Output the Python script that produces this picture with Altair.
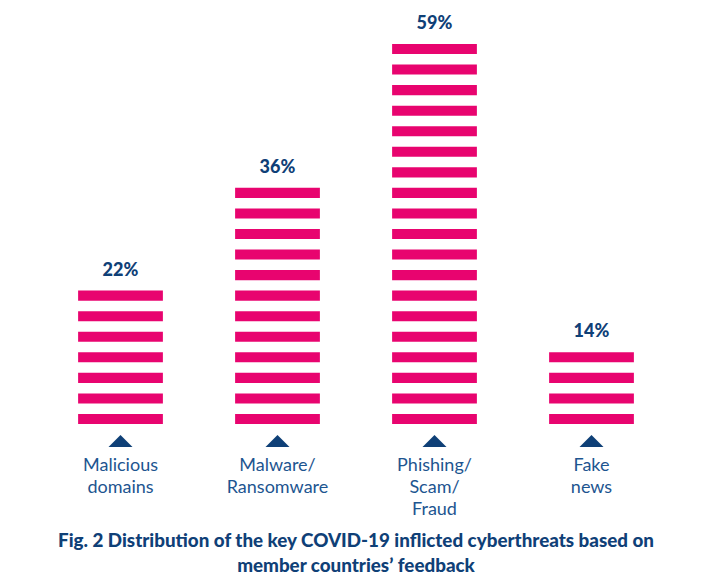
import altair as alt
import pandas as pd

categories = ["Malicious domains", "Malware/ Ransomware", "Phishing/ Scam/ Fraud", "Fake news"]
label_lines = [["Malicious", "domains"], ["Malware/", "Ransomware"], ["Phishing/", "Scam/", "Fraud"], ["Fake", "news"]]
values = [22, 36, 59, 14]
caption_lines = ["Fig. 2 Distribution of the key COVID-19 inflicted cyberthreats based on",
                 "member countries\u2019 feedback"]

STEP = 3.12  # percent represented by one stripe

stripe_rows = []
for c, v in zip(categories, values):
    n = round(v / STEP)
    for k in range(n):
        stripe_rows.append({"cat": c, "y0": k, "y1": k + 0.49})
stripes = pd.DataFrame(stripe_rows)

labels = pd.DataFrame({
    "cat": categories,
    "pct": [f"{v}%" for v in values],
    "top": [round(v / STEP) - 1 + 0.49 for v in values],
    "lines": label_lines,
})

PINK = "#E8046F"
NAVY = "#0F4077"
BLUE = "#1D5590"

xs = alt.X("cat:N", sort=categories, axis=None,
           scale=alt.Scale(paddingInner=0.46, paddingOuter=0.23))
yscale = alt.Scale(domain=[0, 18.49], range=[416, 36])

bars = alt.Chart(stripes).mark_bar(color=PINK).encode(
    x=xs,
    y=alt.Y("y0:Q", scale=yscale, axis=None),
    y2="y1:Q",
)

pct = alt.Chart(labels).mark_text(
    font="Lato", fontWeight=900, fontSize=18, color=NAVY, baseline="middle", dy=-20
).encode(
    x=xs,
    y=alt.Y("top:Q", scale=yscale, axis=None),
    text="pct:N",
)

tri = alt.Chart(labels).mark_point(
    shape="M-1,0.5L0,-0.5L1,0.5Z", filled=True, opacity=1, color=NAVY, size=576, strokeWidth=0
).encode(
    x=xs,
    y=alt.value(433),
)

cat_text = alt.Chart(labels).mark_text(
    font="Lato", fontSize=18, color=BLUE, baseline="middle", lineHeight=22
).encode(
    x=xs,
    y=alt.value(458),
    text="lines",
)

cap = pd.DataFrame({"t": [caption_lines]})
caption = alt.Chart(cap).mark_text(
    font="Lato", fontWeight=900, fontSize=18.8, color=NAVY, baseline="middle", lineHeight=25
).encode(
    x=alt.value(314),
    y=alt.value(533),
    text="t",
)

chart = alt.layer(bars, pct, tri, cat_text, caption).properties(
    width=628, height=571,
    padding={"left": 34, "top": 0, "right": 0, "bottom": 0},
    autosize="none",
).configure_view(stroke=None)

chart.save("out.html", embed_options={"renderer": "svg", "actions": False})
